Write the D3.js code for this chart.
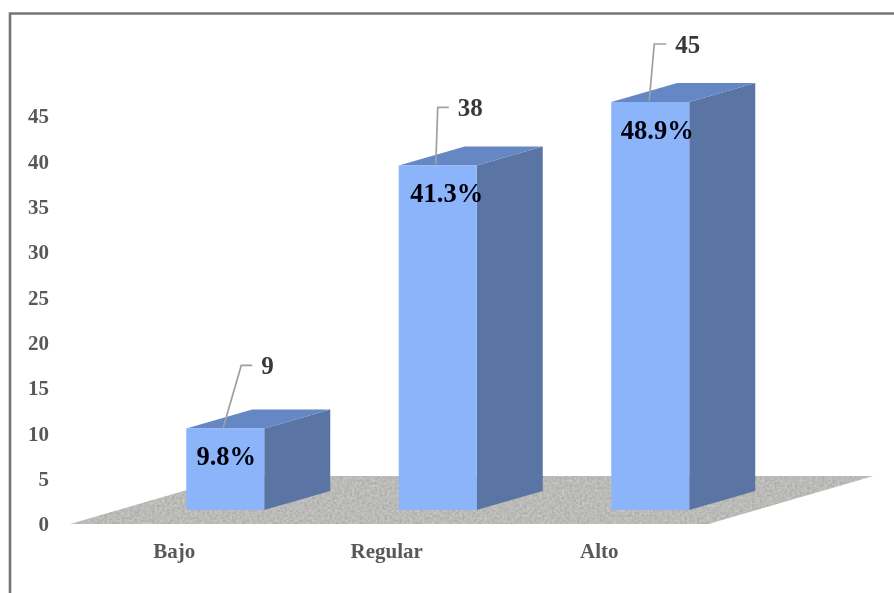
<!DOCTYPE html>
<html>
<head>
<meta charset="utf-8">
<style>
  html, body { margin: 0; padding: 0; background: #fff; }
  svg { display: block; }
  text { font-family: "Liberation Serif", serif; font-weight: bold; }
</style>
</head>
<body>
<svg id="chart" width="894" height="593"></svg>
<script src="https://cdnjs.cloudflare.com/ajax/libs/d3/7.8.5/d3.min.js"></script>
<script>
// values
var categories = ['Bajo', 'Regular', 'Alto'];
var counts = [9, 38, 45];
var percents = ['9.8%', '41.3%', '48.9%'];
var yTicks = [0, 5, 10, 15, 20, 25, 30, 35, 40, 45];

var svg = d3.select('#chart');

// soft look of the scanned picture and the speckled floor
var defs = svg.append('defs');
var soft = defs.append('filter').attr('id', 'soft');
soft.append('feGaussianBlur').attr('stdDeviation', 0.5);

var speckle = defs.append('filter').attr('id', 'speckle')
  .attr('x', 0).attr('y', 0).attr('width', 1).attr('height', 1)
  .attr('color-interpolation-filters', 'sRGB');
speckle.append('feTurbulence')
  .attr('type', 'fractalNoise')
  .attr('baseFrequency', 0.4)
  .attr('numOctaves', 2)
  .attr('seed', 4);
speckle.append('feColorMatrix')
  .attr('values', '0.2 0 0 0 0.63  0.2 0 0 0 0.63  0.2 0 0 0 0.62  0 0 0 0 1');
speckle.append('feComposite').attr('in2', 'SourceGraphic').attr('operator', 'in');

var root = svg.append('g').attr('filter', 'url(#soft)');

// frame, only top and left are visible
root.append('path')
  .attr('d', d3.line()([[10, 593], [10, 13.5], [894, 13.5]]))
  .attr('fill', 'none')
  .attr('stroke', '#757575')
  .attr('stroke-width', 2.6);

// scales
var x = d3.scaleBand()
  .domain(categories)
  .range([119, 756.5])
  .paddingInner(0.633)
  .paddingOuter(0.3165);

var y = d3.scaleLinear().domain([0, 45]).range([524, 116]);

// 3d offsets
var depthX = 66, depthY = -19;   // bar depth
var frontGap = -14;              // bars stand this far behind the floor's front edge
var floorX = 165, floorY = -48;  // floor depth
var floorPad = 49;

// floor
var fl = x.range()[0] - floorPad, fr = x.range()[1] - floorPad + 1, fy = y(0);
root.append('polygon')
  .attr('points', [[fl, fy], [fr, fy], [fr + floorX, fy + floorY], [fl + floorX, fy + floorY]].join(' '))
  .attr('fill', '#b0b0ae')
  .attr('filter', 'url(#speckle)');

// y axis
var yAxis = d3.axisLeft(y).tickValues(yTicks).tickSize(0).tickPadding(0);
var yG = root.append('g')
  .attr('transform', 'translate(49,0)')
  .call(yAxis);
yG.select('.domain').remove();
yG.selectAll('text')
  .style('font-family', '"Liberation Serif", serif')
  .style('font-size', '21px')
  .attr('fill', '#595959');

// category labels sit left of the bars, on the floor's front edge
var xAxis = d3.axisBottom(x).tickSize(0).tickPadding(0);
var xG = root.append('g')
  .attr('transform', 'translate(-51,' + (fy + 19) + ')')
  .call(xAxis);
xG.select('.domain').remove();
xG.selectAll('text')
  .style('font-family', '"Liberation Serif", serif')
  .style('font-size', '21px')
  .attr('fill', '#595959');

// bars
var bars = root.selectAll('.bar')
  .data(categories)
  .enter()
  .append('g')
  .attr('class', 'bar');

function frontTop(i) { return y(counts[i]) + frontGap; }
var base = y(0) + frontGap;
var bw = x.bandwidth();

// side face
bars.append('polygon')
  .attr('fill', '#5a75a4')
  .attr('points', function (d, i) {
    var r = x(d) + bw, t = frontTop(i);
    return [[r, t], [r + depthX, t + depthY], [r + depthX, base + depthY], [r, base]].join(' ');
  });

// top face
bars.append('polygon')
  .attr('fill', '#6587c3')
  .attr('points', function (d, i) {
    var l = x(d), t = frontTop(i);
    return [[l, t], [l + depthX, t + depthY], [l + bw + depthX, t + depthY], [l + bw, t]].join(' ');
  });

// front face
bars.append('rect')
  .attr('fill', '#8cb4fa')
  .attr('x', function (d) { return x(d); })
  .attr('y', function (d, i) { return frontTop(i); })
  .attr('width', bw)
  .attr('height', function (d, i) { return base - frontTop(i); });

// leader lines: the short bar's leans further over
var leaderLean = [18, 2, 5];
var leaderRise = [62, 57, 57];
var leaderFoot = [-2, -2, -1];
var leaderEnd = [11, 11, 12];

bars.append('path')
  .attr('fill', 'none')
  .attr('stroke', '#a0a0a0')
  .attr('stroke-width', 1.7)
  .attr('d', function (d, i) {
    var cx = x(d) + bw / 2 + leaderFoot[i], t = frontTop(i) - 1;
    return d3.line()([
      [cx, t],
      [cx + leaderLean[i], t - leaderRise[i]],
      [cx + leaderLean[i] + leaderEnd[i], t - leaderRise[i]]
    ]);
  });

// counts
bars.append('text')
  .attr('x', function (d, i) { return x(d) + bw / 2 + leaderFoot[i] + leaderLean[i] + leaderEnd[i] + 9; })
  .attr('y', function (d, i) { return frontTop(i) - 1 - leaderRise[i] + 9; })
  .attr('font-size', 25)
  .attr('fill', '#383838')
  .text(function (d, i) { return counts[i]; });

// percentages
var pctShift = [1, 9, 7];
bars.append('text')
  .attr('x', function (d, i) { return x(d) + bw / 2 + pctShift[i]; })
  .attr('y', function (d, i) { return frontTop(i) + 37; })
  .attr('text-anchor', 'middle')
  .attr('font-size', 26.5)
  .attr('fill', '#000008')
  .text(function (d, i) { return percents[i]; });
</script>
</body>
</html>
